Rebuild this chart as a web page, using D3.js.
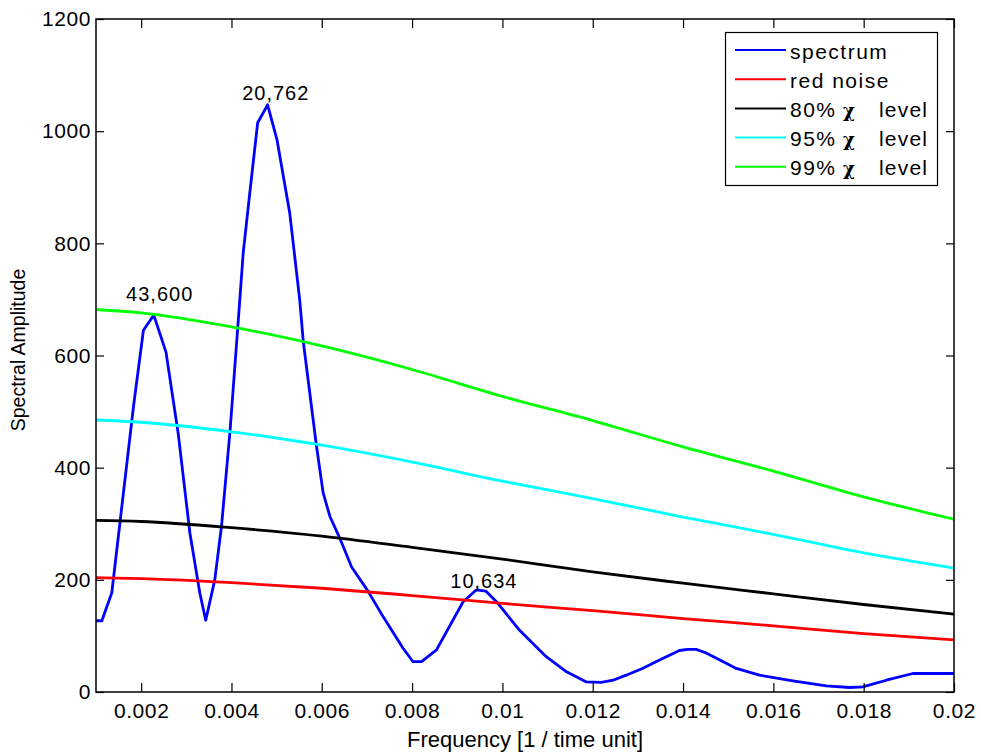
<!DOCTYPE html>
<html>
<head>
<meta charset="utf-8">
<script src="https://cdn.jsdelivr.net/npm/d3@7"></script>
<style>
  body { margin: 0; background: #fff; }
  svg { display: block; font-family: "Liberation Sans", Arial, Helvetica, sans-serif; }
</style>
</head>
<body>
<svg id="chart" width="981" height="755"></svg>
<script>
var width = 981,
    height = 755;

// spectrum
var specFreq = [0.00100, 0.00113, 0.00135, 0.00183, 0.00205, 0.00228, 0.00255, 0.00282, 0.00308, 0.00330,
                0.00343, 0.00363, 0.00378, 0.00397, 0.00414, 0.00426, 0.00441, 0.00458, 0.00480, 0.00501,
                0.00529, 0.00551, 0.00559, 0.00588, 0.00603, 0.00618, 0.00640, 0.00666, 0.00703, 0.00736,
                0.00780, 0.00802, 0.00821, 0.00854, 0.00913, 0.00942, 0.00963, 0.00987, 0.01038, 0.01097,
                0.01142, 0.01186, 0.01219, 0.01245, 0.01274, 0.01310, 0.01348, 0.01392, 0.01410, 0.01429,
                0.01450, 0.01474, 0.01518, 0.01569, 0.01643, 0.01717, 0.01769, 0.01798, 0.01850, 0.01909,
                0.01946, 0.02000];
var specAmp  = [127, 127, 177, 509, 645, 672, 606, 461, 283, 176,
                128, 200, 296, 467, 651, 783, 893, 1015, 1047, 984,
                854, 700, 625, 440, 355, 313, 274, 223, 179, 134,
                78, 54, 54, 75, 161, 182, 180, 161, 110, 63,
                36, 18, 17, 21, 30, 42, 57, 74, 76, 76,
                70, 60, 42, 30, 20, 11, 8, 9, 21, 33,
                33, 33];

// smooth reference levels
var levelFreq = [0.001, 0.002, 0.004, 0.006, 0.008, 0.010, 0.012, 0.014, 0.016, 0.018, 0.020];
var redNoise  = [204, 202, 195, 185, 172, 158, 145, 131, 118, 104, 93];
var level80   = [306, 304, 293, 278, 258, 237, 214, 194, 175, 156, 139];
var level95   = [485, 481, 464, 440, 410, 376, 345, 312, 281, 248, 221];
var level99   = [682, 676, 651, 617, 575, 527, 484, 437, 394, 348, 308];

var peakLabels = ["43,600", "20,762", "10,634"];
var peakFreq   = [0.00241, 0.00498, 0.00959];
var peakAmp    = [697, 1056, 185];

var xTicks = [0.002, 0.004, 0.006, 0.008, 0.010, 0.012, 0.014, 0.016, 0.018, 0.020];
var yTicks = [0, 200, 400, 600, 800, 1000, 1200];

var legendNames = ["spectrum", "red noise", "80%", "95%", "99%"];
var colors = ["#0000ff", "#ff0000", "#000000", "#00ffff", "#00ff00"];

var x = d3.scaleLinear().domain([0.001, 0.02]).range([96, 954]);
var y = d3.scaleLinear().domain([0, 1200]).range([692, 19]);

var svg = d3.select("#chart");
svg.append("rect").attr("width", width).attr("height", height).attr("fill", "#fff");

var line = d3.line()
    .x(d => x(d[0]))
    .y(d => y(d[1]));

var smooth = d3.line()
    .x(d => x(d[0]))
    .y(d => y(d[1]))
    .curve(d3.curveMonotoneX);

var series = [
    { pts: d3.zip(specFreq, specAmp), gen: line },
    { pts: d3.zip(levelFreq, redNoise), gen: smooth },
    { pts: d3.zip(levelFreq, level80), gen: smooth },
    { pts: d3.zip(levelFreq, level95), gen: smooth },
    { pts: d3.zip(levelFreq, level99), gen: smooth }
];

svg.selectAll(".series")
    .data(series)
    .enter()
    .append("path")
        .attr("class", "series")
        .attr("fill", "none")
        .attr("stroke", (d, i) => colors[i])
        .attr("stroke-width", 2.8)
        .attr("stroke-linejoin", "round")
        .attr("d", d => d.gen(d.pts));

// peak labels
svg.selectAll(".peak")
    .data(peakLabels)
    .enter()
    .append("text")
        .attr("class", "peak")
        .attr("x", (d, i) => x(peakFreq[i]))
        .attr("y", (d, i) => y(peakAmp[i]))
        .attr("text-anchor", "middle")
        .attr("font-size", 20)
        .attr("letter-spacing", 1)
        .text(d => d);

// axes, ticks pointing inward on all four sides
var fmt = d => String(+d.toFixed(3));

var gx = svg.append("g")
    .attr("transform", "translate(0,692)")
    .call(d3.axisBottom(x).tickValues(xTicks).tickFormat(fmt).tickSizeInner(-9).tickSizeOuter(0).tickPadding(11));
var gy = svg.append("g")
    .attr("transform", "translate(96,0)")
    .call(d3.axisLeft(y).tickValues(yTicks).tickFormat(d3.format("d")).tickSizeInner(-8).tickSizeOuter(0).tickPadding(5));
var gt = svg.append("g")
    .attr("transform", "translate(0,19)")
    .call(d3.axisTop(x).tickValues(xTicks).tickFormat("").tickSizeInner(-9).tickSizeOuter(0));
var gr = svg.append("g")
    .attr("transform", "translate(954,0)")
    .call(d3.axisRight(y).tickValues(yTicks).tickFormat("").tickSizeInner(-8).tickSizeOuter(0));

[gx, gy, gt, gr].forEach(g => {
    g.select(".domain").remove();
    g.selectAll("line").attr("stroke", "#000").attr("stroke-width", 1.2);
    g.selectAll("text")
        .attr("fill", "#000")
        .attr("font-size", 21)
        .attr("letter-spacing", 0.6)
        .attr("font-family", "'Liberation Sans', Arial, sans-serif");
});

svg.append("rect")
    .attr("x", 96).attr("y", 19)
    .attr("width", 954 - 96).attr("height", 692 - 19)
    .attr("fill", "none")
    .attr("stroke", "#000")
    .attr("stroke-width", 1.5);

// axis titles
svg.append("text")
    .attr("x", 525).attr("y", 747)
    .attr("text-anchor", "middle")
    .attr("font-size", 22)
    .text("Frequency [1 / time unit]");

svg.append("text")
    .attr("transform", "translate(25,350) rotate(-90)")
    .attr("text-anchor", "middle")
    .attr("font-size", 19.5)
    .text("Spectral Amplitude");

// legend
var legend = svg.append("g");
legend.append("rect")
    .attr("x", 725.5).attr("y", 32.5)
    .attr("width", 212).attr("height", 153)
    .attr("fill", "#fff")
    .attr("stroke", "#000")
    .attr("stroke-width", 1.2);

var rows = legend.selectAll(".row")
    .data(legendNames)
    .enter()
    .append("g")
        .attr("class", "row")
        .attr("transform", (d, i) => "translate(0," + (50 + i * 29.2) + ")");

rows.append("line")
    .attr("x1", 735).attr("x2", 786)
    .attr("stroke", (d, i) => colors[i])
    .attr("stroke-width", 2);

var labels = rows.append("text")
    .attr("x", 790)
    .attr("y", 8.5)
    .attr("font-size", 21)
    .attr("letter-spacing", 1.5);

labels.append("tspan").text(d => d);
labels.filter((d, i) => i >= 2).append("tspan")
    .attr("x", 843)
    .attr("font-family", "'DejaVu Serif', serif")
    .attr("font-weight", "bold")
    .attr("font-size", 18)
    .attr("letter-spacing", 0)
    .text("\u03C7");
labels.filter((d, i) => i >= 2).append("tspan")
    .attr("x", 879)
    .attr("letter-spacing", 1.2)
    .text("level");
</script>
</body>
</html>
